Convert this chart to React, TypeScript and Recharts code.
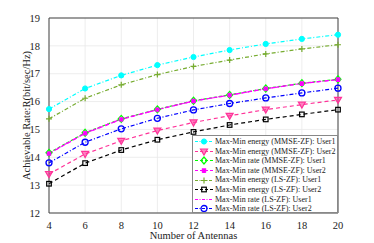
import React from 'react';
import { LineChart, Line, XAxis, YAxis, CartesianGrid, Label, ReferenceLine } from 'recharts';

const antennas = [4, 6, 8, 10, 12, 14, 16, 18, 20];
const energyMmseU1 = [15.73, 16.47, 16.94, 17.31, 17.6, 17.85, 18.07, 18.25, 18.4];
const energyMmseU2 = [13.4, 14.12, 14.59, 14.96, 15.25, 15.49, 15.71, 15.89, 16.06];
const rateMmseU1 = [14.16, 14.88, 15.38, 15.72, 16.03, 16.24, 16.47, 16.66, 16.8];
const rateMmseU2 = [14.13, 14.86, 15.36, 15.71, 16.02, 16.23, 16.46, 16.65, 16.79];
const energyLsU1 = [15.38, 16.12, 16.6, 16.97, 17.26, 17.49, 17.71, 17.89, 18.04];
const energyLsU2 = [13.05, 13.79, 14.26, 14.63, 14.91, 15.16, 15.36, 15.54, 15.71];
const rateLsU1 = [14.14, 14.87, 15.37, 15.71, 16.02, 16.23, 16.46, 16.65, 16.79];
const rateLsU2 = [13.8, 14.54, 15.02, 15.4, 15.7, 15.93, 16.13, 16.31, 16.48];
const xTicks = [4, 6, 8, 10, 12, 14, 16, 18, 20];
const yTicks = [12, 13, 14, 15, 16, 17, 18, 19];

const seriesNames = [
  'Max-Min energy (MMSE-ZF): User1',
  'Max-Min energy (MMSE-ZF): User2',
  'Max-Min rate (MMSE-ZF): User1',
  'Max-Min rate (MMSE-ZF): User2',
  'Max-Min energy (LS-ZF): User1',
  'Max-Min energy (LS-ZF): User2',
  'Max-Min rate (LS-ZF): User1',
  'Max-Min rate (LS-ZF): User2',
];
const seriesValues = [energyMmseU1, energyMmseU2, rateMmseU1, rateMmseU2, energyLsU1, energyLsU2, rateLsU1, rateLsU2];

type Marker = 'circleFilled' | 'triDown' | 'diamond' | 'star' | 'plus' | 'square' | 'none' | 'circle';
const styles: { color: string; dash: string; marker: Marker }[] = [
  { color: '#00FFFF', dash: '4 2 1 2', marker: 'circleFilled' },
  { color: '#FF3399', dash: '4 3', marker: 'triDown' },
  { color: '#00FF00', dash: '3 2', marker: 'diamond' },
  { color: '#FF00FF', dash: '4 3', marker: 'star' },
  { color: '#77AC30', dash: '4 2 1 2', marker: 'plus' },
  { color: '#000000', dash: '4 3', marker: 'square' },
  { color: '#FF00FF', dash: '4 2 1 2', marker: 'none' },
  { color: '#0000FF', dash: '4 2 1 2', marker: 'circle' },
];

const data = antennas.map((a, i) => {
  const row: Record<string, number> = { n: a };
  seriesValues.forEach((s, k) => {
    row['s' + k] = s[i];
  });
  return row;
});

function drawMarker(m: Marker, cx: number, cy: number, color: string, key?: string) {
  switch (m) {
    case 'circleFilled':
      return <circle key={key} cx={cx} cy={cy} r={2.6} fill={color} stroke={color} />;
    case 'circle':
      return <circle key={key} cx={cx} cy={cy} r={3} fill="none" stroke={color} strokeWidth={1.3} />;
    case 'triDown':
      return (
        <path key={key} d={`M${cx - 3.5},${cy - 2.5} L${cx + 3.5},${cy - 2.5} L${cx},${cy + 3.5} Z`} fill={color} fillOpacity={0.6} stroke={color} strokeWidth={1.2} />
      );
    case 'diamond':
      return (
        <path key={key} d={`M${cx},${cy - 3.5} L${cx + 3},${cy} L${cx},${cy + 3.5} L${cx - 3},${cy} Z`} fill="none" stroke={color} strokeWidth={1.2} />
      );
    case 'star':
      return (
        <path key={key} d={`M${cx - 2.5},${cy} L${cx + 2.5},${cy} M${cx},${cy - 2.5} L${cx},${cy + 2.5} M${cx - 2},${cy - 2} L${cx + 2},${cy + 2} M${cx - 2},${cy + 2} L${cx + 2},${cy - 2}`} stroke={color} strokeWidth={1.3} />
      );
    case 'plus':
      return <path key={key} d={`M${cx - 3},${cy} L${cx + 3},${cy} M${cx},${cy - 3} L${cx},${cy + 3}`} stroke={color} strokeWidth={1.2} />;
    case 'square':
      return <rect key={key} x={cx - 2.3} y={cy - 2.3} width={4.6} height={4.6} fill="none" stroke={color} strokeWidth={1.2} />;
    default:
      return <g key={key} />;
  }
}

const font = '"Liberation Serif", "Times New Roman", serif';

function LegendBox() {
  return (
    <div
      style={{
        position: 'absolute',
        left: 192,
        top: 135,
        width: 146,
        height: 78,
        border: '1px solid #888',
        background: '#fff',
        padding: '1px 0 0 1px',
        fontFamily: font,
        fontSize: 8,
        lineHeight: '9.6px',
        boxSizing: 'border-box',
        overflow: 'hidden',
      }}
    >
      {seriesNames.map((name, k) => (
        <div key={name} style={{ display: 'flex', alignItems: 'center', whiteSpace: 'nowrap', height: 9.6 }}>
          <svg width={20} height={9} style={{ flex: 'none' }}>
            <line x1={1} y1={4.5} x2={19} y2={4.5} stroke={styles[k].color} strokeWidth={1.2} strokeDasharray={styles[k].dash === '4 2 1 2' ? '3 1.5 1 1.5' : '3 2'} />
            {drawMarker(styles[k].marker, 10, 4.5, styles[k].color)}
          </svg>
          <span style={{ marginLeft: 1, color: '#222' }}>{name}</span>
        </div>
      ))}
    </div>
  );
}

const yLabelContent = (props: any) => {
  const vb = props.viewBox || { x: 0, y: 18, width: 49, height: 195 };
  const x = vb.x + 26;
  const y = vb.y + vb.height / 2;
  return (
    <text x={x} y={y} transform={`rotate(-90 ${x} ${y})`} textAnchor="middle" dominantBaseline="central" style={{ fontFamily: font, fontSize: 10.5, fill: '#222' }}>
      Achievable Rate:R(bit/sec/Hz)
    </text>
  );
};

export default function App() {
  return (
    <div style={{ position: 'absolute', left: 0, top: 0, width: 374, height: 243, background: '#fff' }}>
      <LineChart width={374} height={243} data={data} margin={{ top: 18, right: 36, bottom: 0, left: 0 }}>
        <CartesianGrid stroke="#e8e8e8" strokeWidth={0.8} />
        <XAxis
          dataKey="n"
          type="number"
          domain={[4, 20]}
          ticks={xTicks}
          tickLine={false}
          axisLine={{ stroke: '#444' }}
          tick={{ fontFamily: font, fontSize: 10.5, fill: '#222' }}
          tickMargin={3}
          height={30}
          label={{ value: 'Number of Antennas', position: 'insideBottom', offset: 4, style: { fontFamily: font, fontSize: 10.5, fill: '#222' } }}
        />
        <YAxis
          domain={[12, 19]}
          ticks={yTicks}
          tickLine={false}
          axisLine={{ stroke: '#444' }}
          tick={{ fontFamily: font, fontSize: 10.5, fill: '#222' }}
          tickMargin={3}
          width={49}
        >
          <Label content={yLabelContent} />
        </YAxis>
        <ReferenceLine y={19} stroke="#444" />
        <ReferenceLine x={20} stroke="#444" />
        {seriesNames.map((name, k) => (
          <Line
            key={name}
            dataKey={'s' + k}
            name={name}
            stroke={styles[k].color}
            strokeWidth={1.2}
            strokeDasharray={styles[k].dash}
            isAnimationActive={false}
            dot={(p: any) => drawMarker(styles[k].marker, p.cx, p.cy, styles[k].color, `d${k}-${p.index}`)}
            activeDot={false}
          />
        ))}
      </LineChart>
      <LegendBox />
    </div>
  );
}
